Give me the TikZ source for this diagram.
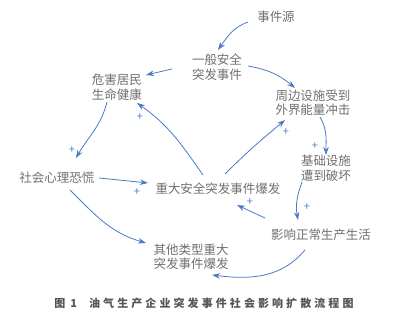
\documentclass[tikz,border=0pt]{standalone}
\usepackage{fontspec}
\setmainfont{Noto Sans CJK SC}
\usetikzlibrary{arrows.meta}
\definecolor{arr}{HTML}{4A7CC6}
\definecolor{txt}{HTML}{707070}
\definecolor{capc}{HTML}{555555}
\tikzset{
  lbl/.style={inner sep=0.5pt, text=txt, align=center, font=\fontsize{12.5}{14.5}\selectfont},
  conn/.style={draw=arr, line width=0.8pt, -{Stealth[length=8pt,width=5.5pt]}},
  plus/.style={text=arr, inner sep=0pt, font=\fontsize{11}{11}\selectfont},
  captext/.style={inner sep=0pt, text=capc, font=\fontsize{11}{12}\selectfont\bfseries\addfontfeature{LetterSpace=28}},
}
\begin{document}
\begin{tikzpicture}[x=1pt,y=1pt]
\useasboundingbox (0,0) rectangle (400,323);
\fill[white] (0,0) rectangle (400,323);
% nodes
\node[lbl] (src)   at (276,306) {事件源};
\node[lbl] (gen)   at (217,256) {一般安全\\突发事件};
\node[lbl] (harm)  at (117,236) {危害居民\\生命健康};
\node[lbl] (peri)  at (313,220) {周边设施受到\\外界能量冲击};
\node[lbl] (infra) at (326,155) {基础设施\\遭到破坏};
\node[lbl] (panic) at (57,145)  {社会心理恐慌};
\node[lbl] (major) at (218,134) {重大安全突发事件爆发};
\node[lbl] (life)  at (321,88)  {影响正常生产生活};
\node[lbl] (other) at (191,66)  {其他类型重大\\突发事件爆发};
\node[captext] (cap) at (204,20) {图\hspace{5pt}1\hspace{12pt}油气生产企业突发事件社会影响扩散流程图};
% connectors
\draw[conn] ([shift={(-28,-5)}]src.center) to[out=200,in=55] ([shift={(1,17)}]gen.center);
\draw[conn] ([shift={(-45,-2)}]gen.center) -- ([shift={(29,12)}]harm.center);
\draw[conn] ([shift={(31,1)}]gen.center) to[out=-10,in=140] ([shift={(-18,15)}]peri.center);
\draw[conn] ([shift={(7,-14)}]peri.center) to[out=-60,in=90] ([shift={(0,13)}]infra.center);
\draw[conn] ([shift={(-10,-15)}]harm.center) to[out=-104,in=60] ([shift={(19,20)}]panic.center);
\draw[conn] ([shift={(-15,14)}]major.center) to[out=125,in=-35] ([shift={(20,-16)}]harm.center);
\draw[conn] ([shift={(7,15)}]major.center) to[out=45,in=-140] ([shift={(-28,-17)}]peri.center);
\draw[conn] ([shift={(42,0)}]panic.center) -- ([shift={(-70,6)}]major.center);
\draw[conn] ([shift={(13,-12)}]panic.center) to[out=-45,in=164] ([shift={(-45,14)}]other.center);
\draw[conn] ([shift={(-24,-14)}]infra.center) to[out=-110,in=100] ([shift={(-23,15)}]life.center);
\draw[conn] ([shift={(-56,17)}]life.center) -- ([shift={(19,-16)}]major.center);
\draw[conn] ([shift={(-16,-15)}]life.center) to[out=-130,in=-7] ([shift={(21,-18)}]other.center);
% plus signs
\node[plus] (p1) at (315,177) {+};
\node[plus] (p2) at (72,173)  {+};
\node[plus] (p3) at (140,206) {+};
\node[plus] (p4) at (286,191) {+};
\node[plus] (p5) at (137,131) {+};
\node[plus] (p6) at (307,116) {+};
\node[plus] (p7) at (250,121) {+};
\end{tikzpicture}
\end{document}
